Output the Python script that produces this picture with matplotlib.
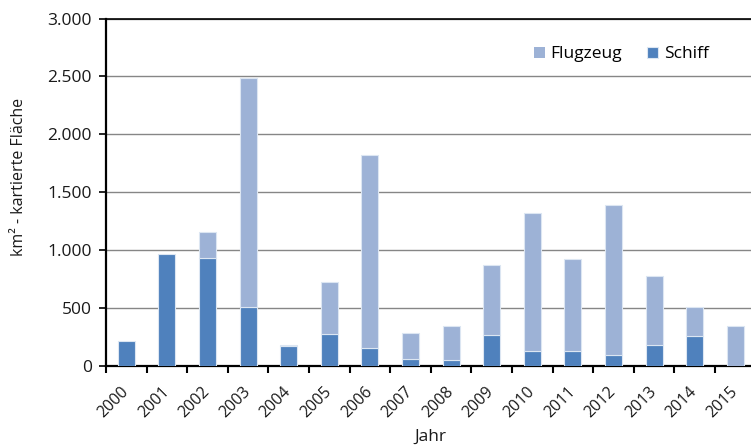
import matplotlib
matplotlib.use("Agg")
import matplotlib.pyplot as plt
import numpy as np
from matplotlib.ticker import FuncFormatter, MultipleLocator

plt.rcParams['font.family'] = ['Open Sans', 'DejaVu Sans']

years = ["2000", "2001", "2002", "2003", "2004", "2005", "2006", "2007",
         "2008", "2009", "2010", "2011", "2012", "2013", "2014", "2015"]
schiff = [220, 970, 930, 510, 175, 276, 158, 63, 52, 270, 132, 132, 95, 184, 256, 0]
flugzeug = [0, 0, 230, 1975, 10, 450, 1667, 220, 290, 600, 1185, 790, 1295, 590, 255, 342]

c_schiff = "#4F81BD"
c_flug = "#9DB2D6"
edge = "#DCE6F2"
txt = "#1a1a1a"

fig = plt.figure(figsize=(7.51, 4.47), dpi=100)
ax = fig.add_axes([106 / 751, 1 - 366 / 447, (755.6 - 106) / 751, (366 - 18.5) / 447])

x = np.arange(len(years)) + 0.5
w = 0.42


def edges(vals):
    return [edge if v > 0 else "none" for v in vals]


ax.bar(x, schiff, width=w, color=c_schiff, edgecolor=edges(schiff), linewidth=0.8,
       label="Schiff", zorder=3)
ax.bar(x, flugzeug, width=w, bottom=schiff, color=c_flug, edgecolor=edges(flugzeug),
       linewidth=0.8, label="Flugzeug", zorder=3)

ax.set_xlim(0, len(years))
ax.set_ylim(0, 3000)

ax.yaxis.set_major_locator(MultipleLocator(500))
ax.yaxis.set_major_formatter(FuncFormatter(lambda v, p: f"{int(v):,}".replace(",", ".")))
ax.grid(axis="y", color="#868686", linewidth=1.0, zorder=0)
ax.set_axisbelow(True)

ax.set_xticks(x)
ax.set_xticklabels(years, rotation=45, ha="right", va="center", rotation_mode="anchor")
ax.set_xticks(np.arange(len(years) + 1), minor=True)
ax.tick_params(axis="x", which="major", length=0, pad=17, labelsize=11.5, colors=txt)
ax.tick_params(axis="x", which="minor", length=5, width=1.5, direction="out", color="black")
ax.tick_params(axis="y", length=5, width=1.2, labelsize=12.5, colors=txt, color="black", pad=5)

for s in ["left", "bottom", "top"]:
    ax.spines[s].set_color("black")
    ax.spines[s].set_linewidth(1.6)
ax.spines["top"].set_linewidth(1.2)
ax.spines["right"].set_visible(False)

ax.set_xlabel("Jahr", fontsize=12.5, color=txt)
ax.xaxis.set_label_coords(0.5, -0.18)
ax.set_ylabel("km² - kartierte Fläche", fontsize=11.5, color=txt)
ax.yaxis.set_label_coords(-0.122, 0.545)

handles, labels = ax.get_legend_handles_labels()
ax.legend(handles[::-1], labels[::-1], loc="upper right", bbox_to_anchor=(0.952, 0.965),
          ncol=2, frameon=False, fontsize=12.5, handlelength=0.6, handleheight=0.6,
          handletextpad=0.35, columnspacing=1.45)

fig.savefig("out.png", dpi=100)
